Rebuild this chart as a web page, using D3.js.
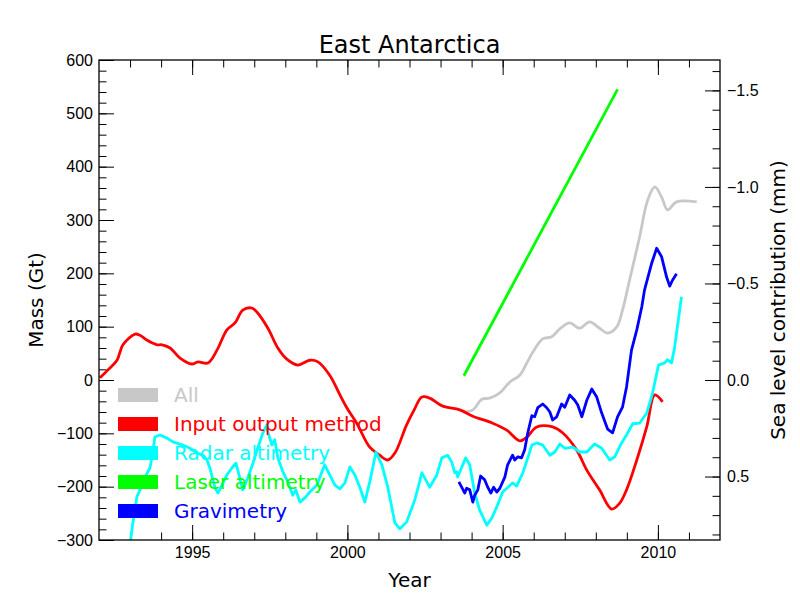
<!DOCTYPE html>
<html>
<head>
<meta charset="utf-8">
<title>East Antarctica</title>
<script src="https://cdn.jsdelivr.net/npm/d3@7"></script>
<style>
  body { margin: 0; background: #fff; }
  svg { font-family: "DejaVu Sans", sans-serif; }
  .tick line { stroke: #000; stroke-width: 1; }
  .tick text { font-size: 16px; fill: #000; }
</style>
</head>
<body>
<svg id="chart" width="800" height="600"></svg>
<script>

  /* data: [year, mass in Gt] */
  const allData = [
    [2003.72, -60], [2004.04, -56], [2004.33, -36], [2004.58, -34], [2004.91, -24],
    [2005.23, -4], [2005.55, 9], [2005.78, 32], [2005.97, 52], [2006.29, 77],
    [2006.58, 81], [2006.84, 96], [2007.16, 107], [2007.48, 97], [2007.80, 109],
    [2008.12, 97], [2008.38, 88], [2008.67, 99], [2008.86, 131], [2009.09, 188],
    [2009.41, 268], [2009.67, 337], [2009.90, 362], [2010.12, 343], [2010.31, 319],
    [2010.60, 334], [2011.25, 334]
  ];

  const inputOutput = [
    [1992.03, 4], [1992.29, 19], [1992.58, 37], [1992.77, 66], [1993.16, 86],
    [1993.32, 84], [1993.54, 75], [1993.87, 66], [1994.03, 66], [1994.29, 60],
    [1994.61, 41], [1994.99, 30], [1995.19, 34], [1995.51, 32], [1995.80, 56],
    [1996.12, 94], [1996.38, 107], [1996.63, 131], [1996.92, 135], [1997.09, 127],
    [1997.44, 97], [1997.76, 60], [1998.05, 39], [1998.40, 28], [1998.79, 37],
    [1999.05, 34], [1999.43, 9], [1999.76, -28], [1999.98, -52], [2000.30, -81],
    [2000.72, -126], [2001.04, -141], [2001.30, -150], [2001.53, -137], [2001.90, -85],
    [2002.15, -56], [2002.40, -32], [2002.65, -34], [2003.07, -49], [2003.62, -56],
    [2004.04, -68], [2004.68, -81], [2005.13, -94], [2005.55, -114], [2005.78, -107],
    [2006.10, -88], [2006.61, -88], [2006.93, -99], [2007.38, -131], [2007.71, -169],
    [2008.12, -206], [2008.51, -242], [2008.77, -231], [2008.99, -206], [2009.32, -150],
    [2009.64, -88], [2009.90, -28], [2010.15, -41]
  ];

  const radar = [
    [1992.95, -330], [1993.09, -268], [1993.22, -219], [1993.32, -206], [1993.48, -182],
    [1993.64, -165], [1993.71, -144], [1993.80, -107], [1993.96, -103], [1994.19, -109],
    [1994.38, -116], [1994.70, -122], [1994.93, -128], [1995.15, -137], [1995.35, -141],
    [1995.48, -150], [1995.57, -165], [1995.73, -201], [1995.83, -212], [1995.96, -197],
    [1996.12, -178], [1996.28, -165], [1996.41, -156], [1996.47, -169], [1996.63, -206],
    [1996.80, -182], [1996.96, -156], [1997.12, -126], [1997.28, -99], [1997.41, -84],
    [1997.44, -97], [1997.57, -122], [1997.66, -112], [1997.76, -146], [1997.92, -172],
    [1998.08, -191], [1998.24, -216], [1998.34, -206], [1998.47, -229], [1998.63, -221],
    [1998.79, -210], [1999.02, -197], [1999.18, -172], [1999.27, -159], [1999.43, -178],
    [1999.60, -197], [1999.76, -204], [1999.92, -193], [2000.08, -163], [2000.24, -178],
    [2000.40, -201], [2000.56, -229], [2000.72, -191], [2000.92, -135], [2001.11, -159],
    [2001.30, -201], [2001.53, -268], [2001.69, -279], [2001.91, -266], [2002.17, -225],
    [2002.40, -174], [2002.65, -201], [2002.88, -178], [2003.04, -146], [2003.23, -141],
    [2003.36, -154], [2003.46, -174], [2003.52, -172], [2003.55, -182], [2003.81, -146],
    [2003.94, -159], [2004.10, -212], [2004.26, -244], [2004.49, -272], [2004.65, -259],
    [2004.81, -238], [2005.00, -210], [2005.32, -193], [2005.45, -199], [2005.65, -174],
    [2005.81, -146], [2005.94, -122], [2006.10, -118], [2006.29, -122], [2006.52, -141],
    [2006.68, -135], [2006.84, -120], [2007.00, -128], [2007.26, -126], [2007.48, -135],
    [2007.71, -135], [2007.96, -120], [2008.19, -128], [2008.45, -150], [2008.61, -144],
    [2008.83, -118], [2008.99, -103], [2009.19, -82], [2009.41, -81], [2009.64, -62],
    [2009.83, -24], [2010.02, 28], [2010.22, 32], [2010.31, 38], [2010.44, 32],
    [2010.54, 62], [2010.76, 156]
  ];

  const laser = [[2003.75, 8], [2008.7, 545]];

  const gravimetry = [
    [2003.59, -191], [2003.68, -201], [2003.78, -212], [2003.84, -203], [2003.94, -206],
    [2004.04, -229], [2004.10, -216], [2004.20, -206], [2004.29, -180], [2004.42, -187],
    [2004.52, -201], [2004.62, -212], [2004.71, -201], [2004.81, -210], [2004.91, -203],
    [2005.07, -182], [2005.16, -159], [2005.32, -141], [2005.39, -150], [2005.49, -144],
    [2005.61, -146], [2005.71, -131], [2005.81, -99], [2005.94, -67], [2006.03, -69],
    [2006.13, -52], [2006.29, -45], [2006.42, -52], [2006.52, -60], [2006.61, -75],
    [2006.74, -69], [2006.90, -45], [2007.00, -51], [2007.16, -28], [2007.32, -38],
    [2007.42, -47], [2007.55, -69], [2007.71, -38], [2007.87, -17], [2008.03, -32],
    [2008.19, -62], [2008.38, -92], [2008.54, -99], [2008.70, -69], [2008.86, -51],
    [2008.99, -13], [2009.15, 56], [2009.32, 94], [2009.48, 137], [2009.57, 169],
    [2009.80, 219], [2009.96, 247], [2010.12, 231], [2010.28, 193], [2010.38, 176],
    [2010.47, 187], [2010.60, 199]
  ];

  const seriesNames = ['All', 'Input output method', 'Radar altimetry', 'Laser altimetry', 'Gravimetry'];
  const seriesColors = ['#c8c8c8', '#ff0000', '#00ffff', '#00ff00', '#0000ff'];
  const seriesData = [allData, inputOutput, radar, laser, gravimetry];
  // the two smooth-looking series get a spline, the others stay jagged
  const seriesSmooth = [true, true, false, false, false];

  const yearMajor = [1995, 2000, 2005, 2010];
  const massMajor = [-300, -200, -100, 0, 100, 200, 300, 400, 500, 600];
  const seaMajor = [-1.5, -1.0, -0.5, 0.0, 0.5];
  const gtPerMm = 362;

  const margin = { top: 60, left: 99, bottom: 60, right: 80 };
  const width = 800 - margin.left - margin.right;
  const height = 600 - margin.top - margin.bottom;

  const xScale = d3.scaleLinear().domain([1992, 2012]).range([0, width]);
  const yScale = d3.scaleLinear().domain([-300, 600]).range([height, 0]);
  const seaScale = d3.scaleLinear()
    .domain([300 / gtPerMm, -600 / gtPerMm])
    .range([height, 0]);

  const svg = d3.select('#chart')
    .append('g')
    .attr('transform', `translate(${margin.left},${margin.top})`);

  svg.append('defs').append('clipPath')
    .attr('id', 'clip')
    .append('rect')
    .attr('width', width)
    .attr('height', height);

  const fmt = d3.format('d');

  /* minor ticks */
  svg.append('g')
    .attr('transform', `translate(0,${height})`)
    .call(d3.axisBottom(xScale).tickValues(d3.range(1993, 2012, 1)).tickSize(-7.5).tickFormat(''));
  svg.append('g')
    .call(d3.axisTop(xScale).tickValues(d3.range(1993, 2012, 1)).tickSize(-7.5).tickFormat(''));
  svg.append('g')
    .call(d3.axisLeft(yScale).tickValues(d3.range(-280, 600, 20)).tickSize(-7.5).tickFormat(''));
  svg.append('g')
    .attr('transform', `translate(${width},0)`)
    .call(d3.axisRight(seaScale).tickValues(d3.range(-16, 9, 1).map(d => d / 10)).tickSize(-7.5).tickFormat(''));

  /* major ticks */
  svg.append('g')
    .attr('class', 'x-axis')
    .attr('transform', `translate(0,${height})`)
    .call(d3.axisBottom(xScale).tickValues(yearMajor).tickSize(-15).tickPadding(7).tickFormat(fmt));
  svg.append('g')
    .call(d3.axisTop(xScale).tickValues(yearMajor).tickSize(-15).tickFormat(''));
  svg.append('g')
    .attr('class', 'y-axis')
    .call(d3.axisLeft(yScale).tickValues(massMajor).tickSize(-15).tickPadding(6).tickFormat(fmt));
  svg.append('g')
    .attr('class', 'sea-axis')
    .attr('transform', `translate(${width},0)`)
    .call(d3.axisRight(seaScale).tickValues(seaMajor).tickSize(-15).tickPadding(7).tickFormat(d3.format('.1f')));

  svg.selectAll('.domain').remove();

  /* lines */
  const line = d3.line()
    .x(d => xScale(d[0]))
    .y(d => yScale(d[1]));
  const smoothLine = d3.line()
    .x(d => xScale(d[0]))
    .y(d => yScale(d[1]))
    .curve(d3.curveCatmullRom);

  svg.append('g')
    .attr('clip-path', 'url(#clip)')
    .selectAll('path')
    .data(seriesData)
    .join('path')
    .attr('d', (d, i) => seriesSmooth[i] ? smoothLine(d) : line(d))
    .attr('fill', 'none')
    .attr('stroke', (d, i) => seriesColors[i])
    .attr('stroke-width', 2.8)
    .attr('stroke-linejoin', 'round');

  /* frame */
  svg.append('rect')
    .attr('width', width)
    .attr('height', height)
    .attr('fill', 'none')
    .attr('stroke', '#000')
    .attr('stroke-width', 1.3);

  /* legend */
  const legend = svg.append('g')
    .attr('transform', `translate(${118 - margin.left},${395 - margin.top})`);

  const rows = legend.selectAll('g')
    .data(seriesNames)
    .join('g')
    .attr('transform', (d, i) => `translate(0,${i * 29})`);

  rows.append('rect')
    .attr('x', 0)
    .attr('y', -7)
    .attr('width', 40)
    .attr('height', 14)
    .attr('fill', (d, i) => seriesColors[i]);

  rows.append('text')
    .attr('x', 56)
    .attr('dy', '0.36em')
    .attr('font-size', 20)
    .attr('fill', (d, i) => seriesColors[i])
    .text(d => d);

  /* titles */
  svg.append('text')
    .attr('x', width / 2)
    .attr('y', -7)
    .attr('text-anchor', 'middle')
    .attr('font-size', 24)
    .text('East Antarctica');

  svg.append('text')
    .attr('x', width / 2)
    .attr('y', height + 47)
    .attr('text-anchor', 'middle')
    .attr('font-size', 20)
    .text('Year');

  svg.append('text')
    .attr('transform', `translate(${43 - margin.left},${height / 2}) rotate(-90)`)
    .attr('text-anchor', 'middle')
    .attr('font-size', 20)
    .text('Mass (Gt)');

  svg.append('text')
    .attr('transform', `translate(${785 - margin.left},${height / 2}) rotate(-90)`)
    .attr('text-anchor', 'middle')
    .attr('font-size', 20)
    .text('Sea level contribution (mm)');

</script>
</body>
</html>
